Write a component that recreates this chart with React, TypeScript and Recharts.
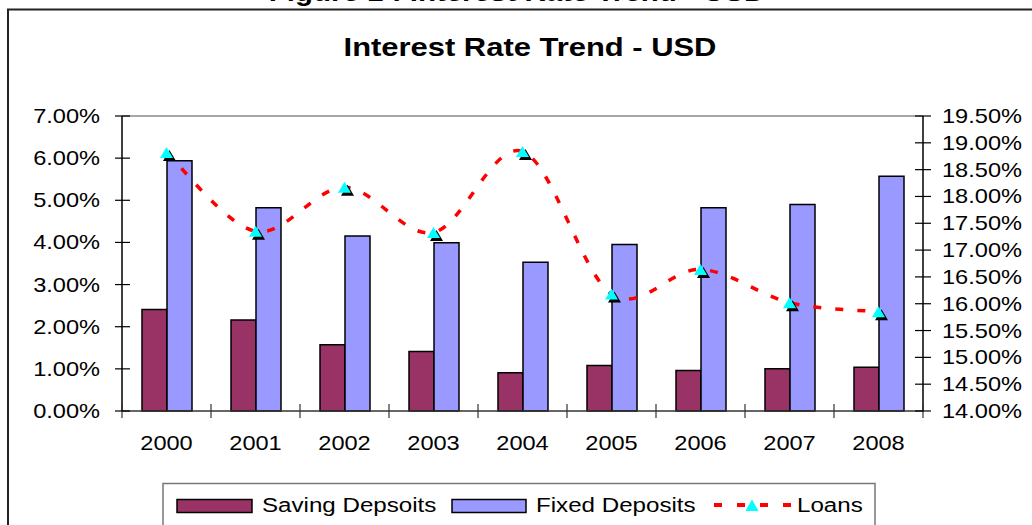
import React from 'react';
import { ComposedChart, Bar, Line, XAxis, YAxis, ReferenceLine } from 'recharts';

const years = ['2000', '2001', '2002', '2003', '2004', '2005', '2006', '2007', '2008'];
const savingDeposits = [2.41, 2.16, 1.57, 1.41, 0.91, 1.08, 0.96, 1.0, 1.04];
const fixedDeposits = [5.94, 4.82, 4.15, 3.99, 3.53, 3.95, 4.82, 4.9, 5.57];
const loans = [18.82, 17.35, 18.17, 17.33, 18.84, 16.18, 16.64, 16.02, 15.85];
const leftTicks = [0, 1, 2, 3, 4, 5, 6, 7];
const rightTicks = [14, 14.5, 15, 15.5, 16, 16.5, 17, 17.5, 18, 18.5, 19, 19.5];

const rows = years.map((y, i) => ({
  year: y,
  saving: savingDeposits[i],
  fixed: fixedDeposits[i],
  loans: loans[i],
}));

const FONT = '"Liberation Sans", Arial, sans-serif';
const SX = 1.18;
const PLOT_L = 122;
const PLOT_R = 923;
const PLOT_T = 116;
const PLOT_B = 411;
const BAND = (PLOT_R - PLOT_L) / years.length;

function excelCurve(context: any) {
  let pts: number[][] = [];
  return {
    areaStart() {},
    areaEnd() {},
    lineStart() {
      pts = [];
    },
    point(x: number, y: number) {
      pts.push([+x, +y]);
    },
    lineEnd() {
      if (!pts.length) return;
      context.moveTo(pts[0][0], pts[0][1]);
      for (let i = 0; i < pts.length - 1; i++) {
        const p0 = pts[i - 1] || pts[i];
        const p1 = pts[i];
        const p2 = pts[i + 1];
        const p3 = pts[i + 2] || p2;
        context.bezierCurveTo(
          p1[0] + (p2[0] - p0[0]) / 6,
          p1[1] + (p2[1] - p0[1]) / 6,
          p2[0] - (p3[0] - p1[0]) / 6,
          p2[1] - (p3[1] - p1[1]) / 6,
          p2[0],
          p2[1]
        );
      }
    },
  };
}

const LeftTick = (props: any) => {
  const { y, payload } = props;
  return (
    <g>
      <line x1={PLOT_L - 7} x2={PLOT_L + 8} y1={y} y2={y} stroke="#000" strokeWidth={1.2} />
      <text
        transform={`translate(100,${y + 7}) scale(${SX},1)`}
        textAnchor="end"
        fontFamily={FONT}
        fontSize={20}
        fill="#000"
      >
        {`${Number(payload.value).toFixed(2)}%`}
      </text>
    </g>
  );
};

const RightTick = (props: any) => {
  const { y, payload } = props;
  return (
    <g>
      <line x1={PLOT_R - 8} x2={PLOT_R + 8} y1={y} y2={y} stroke="#000" strokeWidth={1.2} />
      <text
        transform={`translate(942,${y + 7}) scale(${SX},1)`}
        textAnchor="start"
        fontFamily={FONT}
        fontSize={20}
        fill="#000"
      >
        {`${Number(payload.value).toFixed(2)}%`}
      </text>
    </g>
  );
};

const XTick = (props: any) => {
  const { x, payload, index } = props;
  const last = index === years.length - 1;
  return (
    <g>
      <line x1={x - BAND / 2} x2={x - BAND / 2} y1={PLOT_B - 7} y2={PLOT_B + 7} stroke="#333" strokeWidth={1.2} />
      {last && (
        <line x1={x + BAND / 2} x2={x + BAND / 2} y1={PLOT_B - 7} y2={PLOT_B + 7} stroke="#333" strokeWidth={1.2} />
      )}
      <text
        transform={`translate(${x},${PLOT_B + 39}) scale(${SX},1)`}
        textAnchor="middle"
        fontFamily={FONT}
        fontSize={20}
        fill="#000"
      >
        {payload.value}
      </text>
    </g>
  );
};

const TriangleDot = (props: any) => {
  const { cx, cy } = props;
  if (cx == null || cy == null) return null;
  const w = 13;
  const h = 11;
  const tri = (dx: number, dy: number) =>
    `M${cx + dx},${cy + dy - h / 2} L${cx + dx + w / 2},${cy + dy + h / 2} L${cx + dx - w / 2},${cy + dy + h / 2} Z`;
  return (
    <g>
      <path d={tri(3, 3)} fill="#000" />
      <path d={tri(0, 0)} fill="#00FFFF" />
    </g>
  );
};

export default function App() {
  return (
    <div style={{ position: 'absolute', left: 0, top: 0, width: 1032, height: 525, overflow: 'hidden', background: '#fff' }}>
      <svg width={1032} height={525} style={{ position: 'absolute', left: 0, top: 0 }}>
        <text
          transform={`translate(517,1) scale(${SX},1)`}
          textAnchor="middle"
          fontFamily={FONT}
          fontWeight="bold"
          fontSize={25}
          fill="#000"
        >
          Figure 1 : Interest Rate Trend - USD
        </text>
        <rect x={8} y={9.5} width={1040} height={540} fill="none" stroke="#222" strokeWidth={2} />
        <text
          transform={`translate(530,56) scale(1.19,1)`}
          textAnchor="middle"
          fontFamily={FONT}
          fontWeight="bold"
          fontSize={26}
          fill="#000"
        >
          Interest Rate Trend - USD
        </text>
      </svg>
      <div style={{ position: 'absolute', left: 0, top: 0 }}>
        <ComposedChart
          width={1032}
          height={525}
          data={rows}
          margin={{ top: PLOT_T, bottom: 525 - PLOT_B - 40, left: PLOT_L - 100, right: 1032 - PLOT_R - 100 }}
          barGap={0}
        >
          <XAxis
            dataKey="year"
            height={40}
            interval={0}
            tickLine={false}
            axisLine={{ stroke: '#333', strokeWidth: 1.5 }}
            tick={<XTick />}
          />
          <YAxis
            yAxisId="left"
            width={100}
            domain={[0, 7]}
            ticks={leftTicks}
            tickLine={false}
            axisLine={{ stroke: '#000', strokeWidth: 1.5 }}
            tick={<LeftTick />}
          />
          <YAxis
            yAxisId="right"
            orientation="right"
            width={100}
            domain={[14, 19.5]}
            ticks={rightTicks}
            tickLine={false}
            axisLine={{ stroke: '#000', strokeWidth: 1.5 }}
            tick={<RightTick />}
          />
          <ReferenceLine yAxisId="left" y={7} stroke="#888" strokeWidth={1.5} />
          <Bar
            yAxisId="left"
            dataKey="saving"
            barSize={25}
            fill="#993366"
            stroke="#000"
            strokeWidth={1.5}
            isAnimationActive={false}
          />
          <Bar
            yAxisId="left"
            dataKey="fixed"
            barSize={25}
            fill="#9999FF"
            stroke="#000"
            strokeWidth={1.5}
            isAnimationActive={false}
          />
          <Line
            yAxisId="right"
            dataKey="loans"
            type={excelCurve as any}
            stroke="#FF0000"
            strokeWidth={3.5}
            strokeDasharray="8 14"
            dot={<TriangleDot />}
            activeDot={false}
            isAnimationActive={false}
          />
        </ComposedChart>
      </div>
      <svg width={1032} height={525} style={{ position: 'absolute', left: 0, top: 0 }}>
        <rect x={163} y={483.5} width={712} height={60} fill="#fff" stroke="#777" strokeWidth={1.5} />
        <rect x={177} y={499.5} width={75} height={13} fill="#993366" stroke="#000" strokeWidth={1.5} />
        <text transform={`translate(262,512) scale(1.15,1)`} fontFamily={FONT} fontSize={21} fill="#000">
          Saving Depsoits
        </text>
        <rect x={452} y={499.5} width={74} height={13} fill="#9999FF" stroke="#000" strokeWidth={1.5} />
        <text transform={`translate(536,512) scale(1.15,1)`} fontFamily={FONT} fontSize={21} fill="#000">
          Fixed Deposits
        </text>
        <line x1={714} x2={791} y1={505} y2={505} stroke="#FF0000" strokeWidth={4} strokeDasharray="8 15" />
        <path d="M752,499.5 L758.5,511 L745.5,511 Z" fill="#00FFFF" />
        <text transform={`translate(797,512) scale(1.15,1)`} fontFamily={FONT} fontSize={21} fill="#000">
          Loans
        </text>
      </svg>
    </div>
  );
}
